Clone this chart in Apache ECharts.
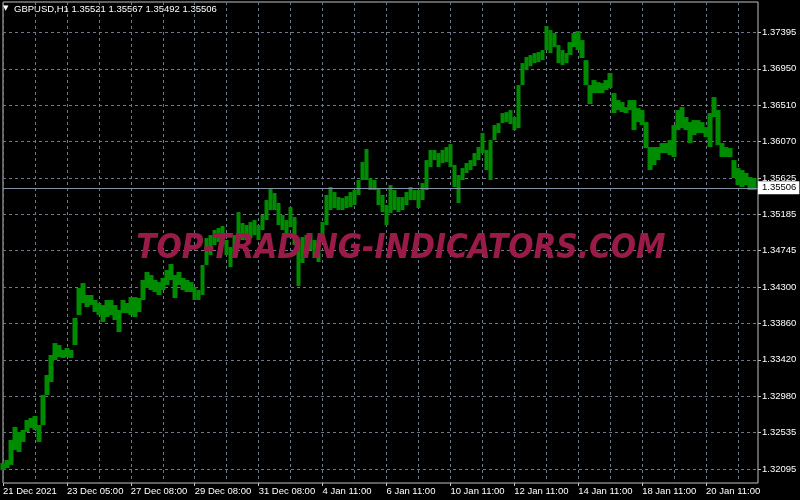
<!DOCTYPE html>
<html><head><meta charset="utf-8">
<script src="https://cdn.jsdelivr.net/npm/echarts@6/dist/echarts.min.js"></script>
<style>html,body{margin:0;padding:0;background:#000;}#c{width:800px;height:500px;}</style>
</head><body><div id="c"></div>
<script>
const symbolTitle = 'GBPUSD,H1 1.35521 1.35567 1.35492 1.35506';
const watermark = 'TOP-TRADING-INDICATORS.COM';
const lastPrice = 1.35506;
const xTickLabels = ['21 Dec 2021','23 Dec 05:00','27 Dec 08:00','29 Dec 08:00','31 Dec 08:00','4 Jan 11:00','6 Jan 11:00','10 Jan 11:00','12 Jan 11:00','14 Jan 11:00','18 Jan 11:00','20 Jan 11:00'];
const yTickValues = [1.32095,1.32535,1.32980,1.33420,1.33860,1.34300,1.34745,1.35185,1.35625,1.36070,1.36510,1.36950,1.37395];
const highs = [
1.32168,1.32204,1.32447,1.32605,1.32544,1.32568,1.32689,1.32714,1.32738,1.32629,
1.32993,1.33235,1.33478,1.33623,1.33599,1.33539,1.33563,1.33539,1.33927,1.34291,
1.34351,1.34206,1.34206,1.34145,1.34109,1.34084,1.34145,1.34145,1.34084,1.34024,
1.34145,1.34109,1.34181,1.34181,1.34169,1.34388,1.34485,1.34448,1.34388,1.34363,
1.34412,1.34509,1.34582,1.34448,1.34485,1.34412,1.34388,1.34363,1.34303,1.34266,
1.34570,1.34897,1.34933,1.34994,1.35018,1.35043,1.34873,1.34788,1.34933,1.35212,
1.35079,1.35055,1.35091,1.35115,1.35055,1.35176,1.35358,1.35491,1.35443,1.35322,
1.35176,1.35115,1.35273,1.35152,1.34812,1.34909,1.34933,1.34958,1.34873,1.34849,
1.35091,1.35419,1.35516,1.35455,1.35394,1.35382,1.35406,1.35455,1.35479,1.35601,
1.35819,1.35977,1.35625,1.35601,1.35504,1.35419,1.35297,1.35540,1.35479,1.35394,
1.35394,1.35455,1.35516,1.35479,1.35479,1.35564,1.35843,1.35965,1.35965,1.35928,
1.35965,1.36001,1.36037,1.35783,1.35661,1.35746,1.35807,1.35843,1.35928,1.36001,
1.36171,1.35965,1.36086,1.36268,1.36292,1.36413,1.36425,1.36450,1.36365,1.36753,
1.37020,1.37093,1.37117,1.37141,1.37153,1.37178,1.37469,1.37420,1.37384,1.37238,
1.37178,1.37141,1.37275,1.37384,1.37408,1.37299,1.37056,1.36753,1.36814,1.36789,
1.36777,1.36814,1.36899,1.36656,1.36571,1.36547,1.36486,1.36571,1.36571,1.36474,
1.36450,1.36304,1.36001,1.36001,1.36001,1.36049,1.36049,1.36086,1.36268,1.36450,
1.36486,1.36365,1.36304,1.36328,1.36328,1.36304,1.36243,1.36413,1.36607,1.36450,
1.36049,1.36001,1.35989,1.35843,1.35746,1.35722,1.35686,1.35637,1.35625];
const lows = [
1.32083,1.32107,1.32144,1.32326,1.32301,1.32423,1.32544,1.32592,1.32568,1.32423,
1.32629,1.32993,1.33150,1.33417,1.33454,1.33442,1.33454,1.33442,1.33599,1.33963,
1.34109,1.34060,1.34084,1.33999,1.33963,1.33878,1.33939,1.33963,1.33902,1.33757,
1.33987,1.33987,1.33963,1.33939,1.33999,1.34145,1.34291,1.34266,1.34242,1.34206,
1.34266,1.34327,1.34388,1.34169,1.34327,1.34266,1.34242,1.34242,1.34145,1.34145,
1.34206,1.34570,1.34691,1.34812,1.34849,1.34812,1.34691,1.34545,1.34691,1.34909,
1.34873,1.34873,1.34897,1.34933,1.34873,1.34994,1.35115,1.35237,1.35237,1.35055,
1.34994,1.34958,1.35031,1.34812,1.34315,1.34594,1.34715,1.34752,1.34654,1.34606,
1.34849,1.35055,1.35237,1.35261,1.35237,1.35237,1.35261,1.35273,1.35297,1.35419,
1.35601,1.35601,1.35479,1.35479,1.35297,1.35212,1.35055,1.35200,1.35237,1.35212,
1.35237,1.35297,1.35358,1.35358,1.35261,1.35358,1.35479,1.35758,1.35843,1.35758,
1.35807,1.35819,1.35758,1.35516,1.35322,1.35601,1.35686,1.35722,1.35770,1.35843,
1.35928,1.35722,1.35601,1.36086,1.36171,1.36292,1.36304,1.36280,1.36207,1.36231,
1.36753,1.36935,1.36983,1.37020,1.37032,1.37056,1.37178,1.37141,1.37214,1.37020,
1.36996,1.37020,1.37117,1.37214,1.37178,1.37081,1.36753,1.36523,1.36656,1.36656,
1.36656,1.36692,1.36717,1.36413,1.36450,1.36425,1.36413,1.36450,1.36207,1.36304,
1.36268,1.35989,1.35722,1.35783,1.35843,1.35928,1.35928,1.35904,1.35880,1.36207,
1.36231,1.36207,1.36049,1.36146,1.36171,1.36171,1.36122,1.36001,1.36365,1.36025,
1.35880,1.35880,1.35880,1.35625,1.35540,1.35516,1.35540,1.35479,1.35479];

const LABEL_STEP = 16;
const N = 190;
const categories = [];
for (let i = 0; i < N; i++) categories.push(String(i));
const candles = highs.map((h, i) => [lows[i], h, lows[i], h]);

const FONT = 'Liberation Sans';
const GREEN = '#008c00';
const gridDash = {color: '#6e7888', type: [3, 3], width: 1};

const chart = echarts.init(document.getElementById('c'), null, {renderer: 'canvas'});
chart.setOption({
  backgroundColor: '#000000',
  animation: false,
  grid: {left: 2, right: 42, top: 2, bottom: 17, show: true, borderColor: '#c0c0c0', borderWidth: 1, backgroundColor: 'transparent'},
  xAxis: {
    type: 'category', data: categories, boundaryGap: false,
    axisLine: {show: false},
    axisTick: {show: true, interval: LABEL_STEP - 1, length: 3, lineStyle: {color: '#c0c0c0'}},
    axisLabel: {interval: LABEL_STEP - 1, align: 'left', margin: 3, color: '#ffffff', fontSize: 9.5, fontFamily: FONT,
      formatter: (v, idx) => (idx % LABEL_STEP === 0 && xTickLabels[idx / LABEL_STEP]) ? xTickLabels[idx / LABEL_STEP] : ''},
    splitLine: {show: true, interval: 7, lineStyle: gridDash}
  },
  yAxis: {
    type: 'value', position: 'right', min: 1.31925, max: 1.37761, scale: true,
    axisLine: {show: false},
    axisTick: {show: true, length: 3, customValues: yTickValues, lineStyle: {color: '#c0c0c0'}},
    axisLabel: {customValues: yTickValues, margin: 4, color: '#ffffff', fontSize: 9.5, fontFamily: FONT, formatter: v => v.toFixed(5)},
    splitLine: {show: true, lineStyle: gridDash}
  },
  series: [{
    type: 'candlestick', data: candles, barWidth: 5, z: 3,
    itemStyle: {color: GREEN, color0: GREEN, borderColor: GREEN, borderColor0: GREEN, borderWidth: 0}
  }, {
    type: 'line', data: [], symbol: 'none', z: 4,
    markLine: {
      symbol: 'none', silent: true, animation: false, precision: 5,
      data: [{yAxis: lastPrice}],
      lineStyle: {color: '#8494a6', type: 'solid', width: 1},
      label: {position: 'end', distance: 0, formatter: () => lastPrice.toFixed(5), backgroundColor: '#ffffff', color: '#000000',
        padding: [2, 3, 1, 4], fontSize: 9.5, fontFamily: FONT}
    }
  }],
  graphic: [
    {type: 'text', x: 3, y: 5, style: {text: '▼', fill: '#ffffff', font: '7px "DejaVu Sans"'}},
    {type: 'text', x: 14, y: 4, style: {text: symbolTitle, fill: '#ffffff', font: '9.5px "Liberation Sans"'}},
    {type: 'text', x: 401, y: 249, scaleX: 0.9, z: 100,
      style: {text: watermark, fill: '#9a1a48', font: 'italic bold 33px "DejaVu Sans"', align: 'center', verticalAlign: 'middle'}}
  ]
});
</script></body></html>
